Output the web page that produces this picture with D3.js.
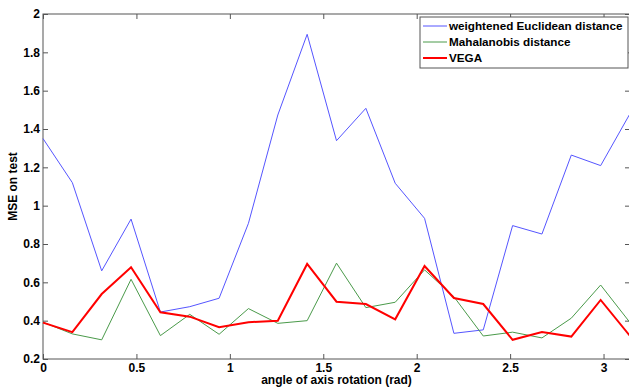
<!DOCTYPE html>
<html>
<head>
<meta charset="utf-8">
<script src="https://cdn.jsdelivr.net/npm/d3@7"></script>
<style>
  body { margin: 0; background: #fff; }
  svg { display: block; overflow: hidden; }
</style>
</head>
<body>
<div id="chart"></div>
<script>
// angle = k * pi / 20, k = 0..20
var angles = d3.range(21).map(function(k) { return k * Math.PI / 20; });

var euclidean = [1.35, 1.12, 0.66, 0.93, 0.445, 0.473, 0.517, 0.908, 1.473, 1.894,
                 1.339, 1.508, 1.117, 0.934, 0.334, 0.352, 0.896, 0.852, 1.264, 1.209, 1.48];
var mahalanobis = [0.392, 0.331, 0.30, 0.616, 0.322, 0.433, 0.329, 0.463, 0.386, 0.40,
                   0.70, 0.468, 0.496, 0.665, 0.525, 0.32, 0.34, 0.31, 0.413, 0.586, 0.39];
var vega = [0.39, 0.34, 0.539, 0.679, 0.444, 0.421, 0.366, 0.392, 0.40, 0.696,
            0.499, 0.487, 0.407, 0.685, 0.518, 0.487, 0.30, 0.341, 0.317, 0.508, 0.32];

var xTicks = [0, 0.5, 1, 1.5, 2, 2.5, 3];
var yTicks = [0.2, 0.4, 0.6, 0.8, 1, 1.2, 1.4, 1.6, 1.8, 2];

var seriesNames = ["weightened Euclidean distance", "Mahalanobis distance", "VEGA"];

var svgWidth = 629;
var svgHeight = 388;
var margin = { top: 14, right: -1, bottom: 29, left: 43 };
var width = svgWidth - margin.left - margin.right;
var height = svgHeight - margin.top - margin.bottom;

var svg = d3.select("#chart")
  .append("svg")
  .attr("width", svgWidth)
  .attr("height", svgHeight);

var chartGroup = svg.append("g")
  .attr("transform", `translate(${margin.left}, ${margin.top})`);

var xScale = d3.scaleLinear().domain([0, Math.PI]).range([0, width]);
var yScale = d3.scaleLinear().domain([0.2, 2]).range([height, 0]);

function boldText(sel, size) {
  sel.style("font-family", "Arial, 'Liberation Sans', sans-serif")
    .style("font-weight", "700")
    .style("font-size", size + "px")
    .style("fill", "#000");
}

// box
chartGroup.append("rect")
  .attr("width", width)
  .attr("height", height)
  .attr("fill", "none")
  .attr("stroke", "#555");

// axes with inward ticks (MATLAB style)
function styleAxis(g) {
  g.select(".domain").remove();
  g.selectAll(".tick line").attr("stroke", "#555");
  g.selectAll(".tick text").call(boldText, 12);
}

chartGroup.append("g")
  .attr("transform", `translate(0, ${height})`)
  .call(d3.axisBottom(xScale).tickValues(xTicks).tickSize(-5).tickPadding(4).tickFormat(d3.format("")))
  .call(styleAxis);

chartGroup.append("g")
  .call(d3.axisTop(xScale).tickValues(xTicks).tickSize(-5).tickFormat(""))
  .call(styleAxis);

chartGroup.append("g")
  .call(d3.axisLeft(yScale).tickValues(yTicks).tickSize(-5).tickPadding(3).tickFormat(d3.format("")))
  .call(styleAxis);

chartGroup.append("g")
  .attr("transform", `translate(${width}, 0)`)
  .call(d3.axisRight(yScale).tickValues(yTicks).tickSize(-5).tickFormat(""))
  .call(styleAxis);

var series = [
  { name: seriesNames[0], values: euclidean, color: "#5555ff", width: 1 },
  { name: seriesNames[1], values: mahalanobis, color: "#4a9a4a", width: 1 },
  { name: seriesNames[2], values: vega, color: "#ff0000", width: 2 }
];

var line = d3.line()
  .x(function(d, i) { return xScale(angles[i]); })
  .y(function(d) { return yScale(d); });

chartGroup.selectAll(".series")
  .data(series)
  .enter()
  .append("path")
  .attr("class", "series")
  .attr("d", function(s) { return line(s.values); })
  .attr("fill", "none")
  .attr("stroke", function(s) { return s.color; })
  .attr("stroke-width", function(s) { return s.width; });

// legend
var legend = svg.append("g").attr("transform", "translate(420, 17)");
legend.append("rect")
  .attr("width", 208)
  .attr("height", 51)
  .attr("fill", "#fff")
  .attr("stroke", "#555");

var items = legend.selectAll(".item")
  .data(series)
  .enter()
  .append("g")
  .attr("transform", function(d, i) { return `translate(0, ${9 + i * 16})`; });

items.append("line")
  .attr("x1", 3).attr("x2", 27)
  .attr("stroke", function(d) { return d.color; })
  .attr("stroke-width", function(d) { return d.width; });

items.append("text")
  .attr("x", 29)
  .attr("dy", "0.35em")
  .call(boldText, 11.7)
  .text(function(d) { return d.name; });

// axis labels
svg.append("text")
  .attr("x", margin.left + width / 2)
  .attr("y", 384)
  .attr("text-anchor", "middle")
  .call(boldText, 12)
  .text("angle of axis rotation (rad)");

svg.append("text")
  .attr("transform", `translate(17, ${margin.top + height / 2}) rotate(-90)`)
  .attr("text-anchor", "middle")
  .call(boldText, 12)
  .text("MSE on test");
</script>
</body>
</html>
